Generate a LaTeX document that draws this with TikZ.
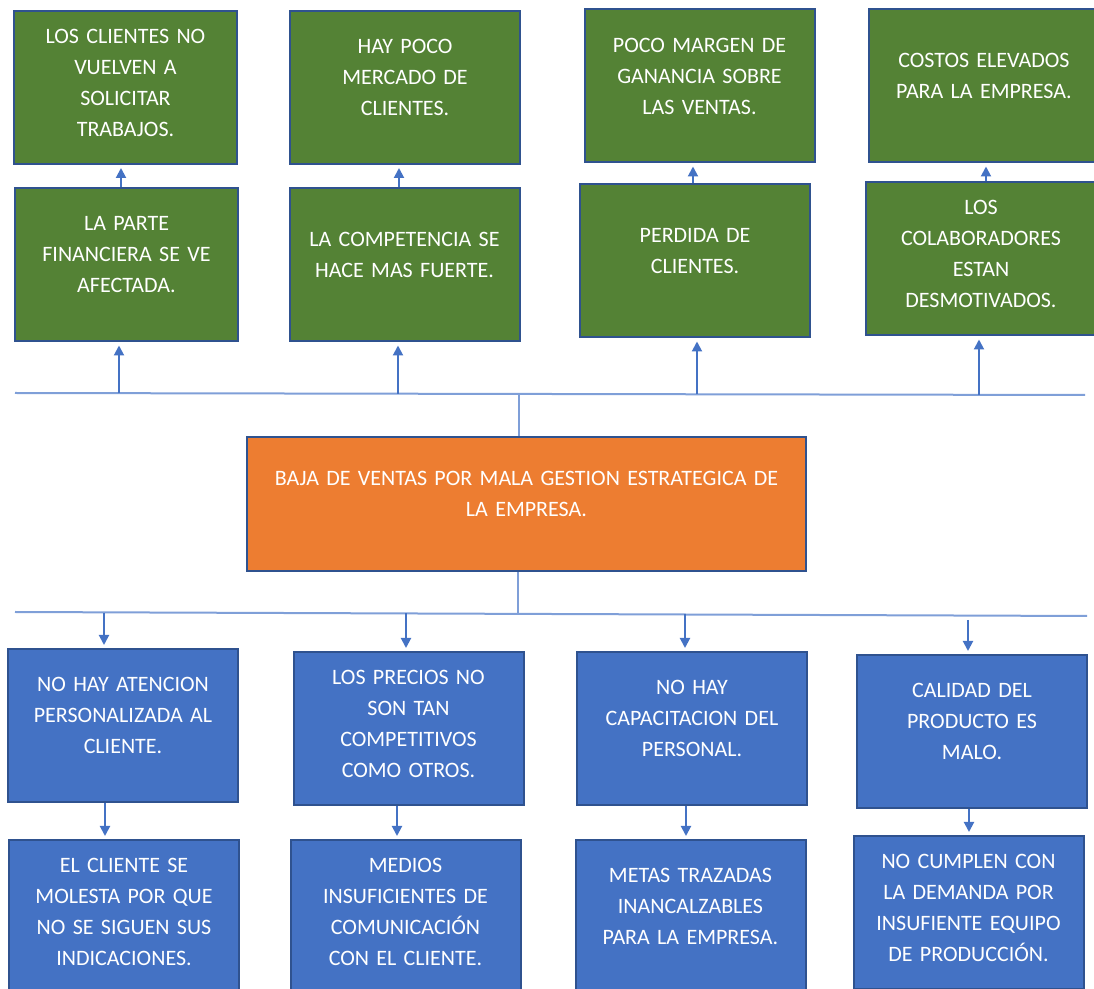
\documentclass[tikz,border=0pt]{standalone}
\usepackage{fontspec}
\setmainfont{Carlito}
\usetikzlibrary{arrows.meta}

\definecolor{leafgreen}{HTML}{548235}
\definecolor{boxblue}{HTML}{4472C4}
\definecolor{rimblue}{HTML}{2F528F}
\definecolor{coreorange}{HTML}{ED7D31}
\definecolor{railblue}{HTML}{7F9FD8}

\newcommand{\boxgap}{10pt}
\newcommand{\boxpad}{\endgraf\vspace{\boxgap}}

\begin{document}
\begin{tikzpicture}[x=0.5pt,y=-0.5pt]
    \tikzstyle{Box} = [
            draw=rimblue,
            line width=1pt,
            rectangle,
            minimum width=115pt,
            minimum height=76.5pt,
            inner ysep=0pt,
            text width=105pt,
            align=center,
            text=white,
            font={\fontsize{11}{15.5}\selectfont},
            execute at end node={\boxpad}
    ];
    \tikzstyle{Long} = [
            execute at begin node={\def\boxgap{5pt}}
    ];
    \tikzstyle{Effect} = [
            Box,
            fill=leafgreen
    ];
    \tikzstyle{Cause} = [
            Box,
            fill=boxblue
    ];
    \tikzstyle{Problem} = [
            Box,
            fill=coreorange,
            minimum width=279.5pt,
            minimum height=67pt,
            text width=262pt
    ];
    \tikzstyle{Edge} = [
            draw=boxblue,
            line width=1pt,
            shorten >=1.5pt,
            -{Triangle[width=5pt,length=5pt]}
    ];
    \tikzstyle{Rail} = [
            draw=railblue,
            line width=1pt
    ];
    \tikzstyle{Stem} = [
            draw=railblue,
            line width=0.6pt
    ];

    \useasboundingbox (0,0) rectangle (1094,989);
    \clip (0,0) rectangle (1094,989);

    % effects
    \node[Effect, Long, name=G1, minimum width=109.5pt] at (125.5,87.5) {LOS CLIENTES NO\\ VUELVEN A\\ SOLICITAR\\ TRABAJOS.};
    \node[Effect, name=G2] at (405,87.5)  {HAY POCO\\ MERCADO DE\\ CLIENTES.};
    \node[Effect, name=G3] at (699.5,86)  {POCO MARGEN DE\\ GANANCIA SOBRE\\ LAS VENTAS.};
    \node[Effect, name=G4] at (984,86)    {COSTOS ELEVADOS\\ PARA LA EMPRESA.};
    \node[Effect, name=S1, minimum width=109.5pt] at (126.5,265) {LA PARTE\\ FINANCIERA SE VE\\ AFECTADA.};
    \node[Effect, name=S2] at (404.5,265) {LA COMPETENCIA SE\\ HACE MAS FUERTE.};
    \node[Effect, name=S3] at (695,261)   {PERDIDA DE\\ CLIENTES.};
    \node[Effect, Long, name=S4] at (981,259) {LOS\\ COLABORADORES\\ ESTAN\\ DESMOTIVADOS.};

    % central problem
    \node[Problem, name=Core] at (526.5,504) {BAJA DE VENTAS POR MALA GESTION ESTRATEGICA DE\\ LA EMPRESA.};

    % causes
    \node[Cause, name=B1] at (123,725.5)   {NO HAY ATENCION\\ PERSONALIZADA AL\\ CLIENTE.};
    \node[Cause, Long, name=B2] at (408.5,728.5) {LOS PRECIOS NO\\ SON TAN\\ COMPETITIVOS\\ COMO OTROS.};
    \node[Cause, name=B3] at (692,728.5)   {NO HAY\\ CAPACITACION DEL\\ PERSONAL.};
    \node[Cause, name=B4] at (972,731.5)   {CALIDAD DEL\\ PRODUCTO ES\\ MALO.};
    \node[Cause, Long, name=C1] at (124,916.5)   {EL CLIENTE SE\\ MOLESTA POR QUE\\ NO SE SIGUEN SUS\\ INDICACIONES.};
    \node[Cause, Long, name=C2] at (405.5,916.5) {MEDIOS\\ INSUFICIENTES DE\\ COMUNICACIÓN\\ CON EL CLIENTE.};
    \node[Cause, name=C3] at (690.5,916.5) {METAS TRAZADAS\\ INANCALZABLES\\ PARA LA EMPRESA.};
    \node[Cause, Long, name=C4] at (968.5,912.5) {NO CUMPLEN CON\\ LA DEMANDA POR\\ INSUFIENTE EQUIPO\\ DE PRODUCCIÓN.};

    % rails
    \coordinate (TopL) at (15,393);
    \coordinate (TopR) at (1085,395);
    \coordinate (BotL) at (15,612);
    \coordinate (BotR) at (1087,616);
    \draw[Rail] (TopL) -- (TopR);
    \draw[Rail] (BotL) -- (BotR);
    \coordinate (StemA) at (519,394);
    \coordinate (StemB) at (518,614);
    \draw[Stem] (StemA) -- (StemA |- Core.north);
    \draw[Stem] (StemB) -- (StemB |- Core.south);

    % arrows up
    \coordinate (u1) at (119,393.5);
    \coordinate (u2) at (398,394);
    \coordinate (u3) at (697,394.5);
    \coordinate (u4) at (979,395);
    \draw[Edge] (u1) -- (u1 |- S1.south);
    \draw[Edge] (u2) -- (u2 |- S2.south);
    \draw[Edge] (u3) -- (u3 |- S3.south);
    \draw[Edge] (u4) -- (u4 |- S4.south);
    \draw[Edge] ([xshift=-2.75pt]S1.north) -- ([xshift=-2.75pt]S1.north |- G1.south);
    \draw[Edge] ([xshift=-2.75pt]S2.north) -- ([xshift=-2.75pt]S2.north |- G2.south);
    \draw[Edge] ([xshift=-1pt]S3.north) -- ([xshift=-1pt]S3.north |- G3.south);
    \draw[Edge] ([xshift=2.5pt]S4.north) -- ([xshift=2.5pt]S4.north |- G4.south);

    % arrows down
    \coordinate (d1) at (104,613);
    \coordinate (d2) at (406,613.5);
    \coordinate (d3) at (685,614);
    \coordinate (d4) at (968,620);
    \draw[Edge] (d1) -- (d1 |- B1.north);
    \draw[Edge] (d2) -- (d2 |- B2.north);
    \draw[Edge] (d3) -- (d3 |- B3.north);
    \draw[Edge] (d4) -- (d4 |- B4.north);
    \draw[Edge] ([xshift=-9pt]B1.south) -- ([xshift=-9pt]B1.south |- C1.north);
    \draw[Edge] ([xshift=-5.75pt]B2.south) -- ([xshift=-5.75pt]B2.south |- C2.north);
    \draw[Edge] ([xshift=-3pt]B3.south) -- ([xshift=-3pt]B3.south |- C3.north);
    \draw[Edge] ([xshift=-1.5pt]B4.south) -- ([xshift=-1.5pt]B4.south |- C4.north);
\end{tikzpicture}
\end{document}
